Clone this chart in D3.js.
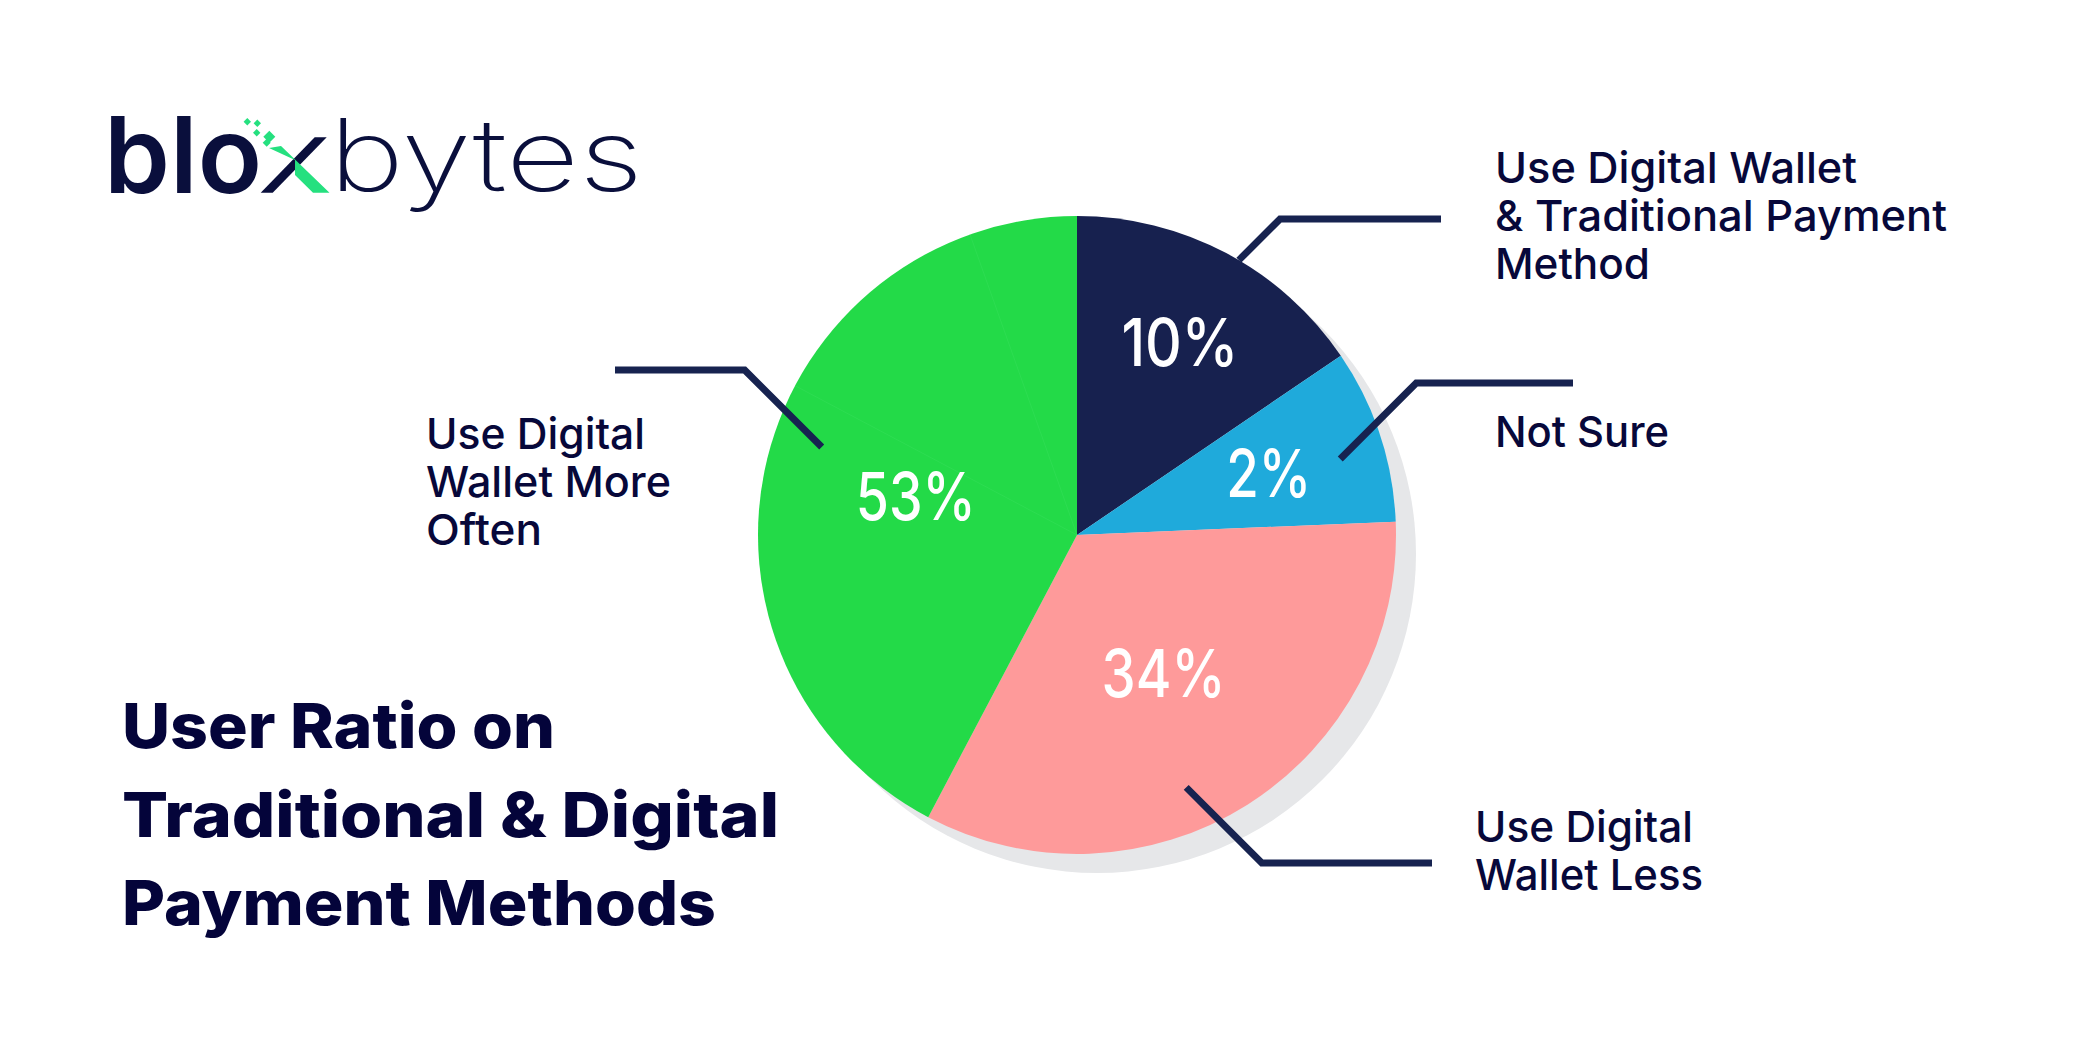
<!DOCTYPE html>
<html><head><meta charset="utf-8">
<script src="https://cdn.jsdelivr.net/npm/d3@7"></script>
<style>html,body{margin:0;padding:0;background:#fff;} svg{display:block}</style>
</head><body>
<svg id="chart" width="2084" height="1038"></svg>
<script>
// ---------------- data ----------------
const categories = [
  "Use Digital Wallet & Traditional Payment Method",
  "Not Sure",
  "Use Digital Wallet Less",
  "Use Digital Wallet More Often"
];
const percentLabels = ["10%", "2%", "34%", "53%"];
// arc sizes as drawn in the picture (degrees); the drawn pie does not follow the printed percentages
const sliceDegrees = [55.8, 31.8, 120.2, 152.2];
const categoryLines = [
  ["Use Digital Wallet", "& Traditional Payment", "Method"],
  ["Not Sure"],
  ["Use Digital", "Wallet Less"],
  ["Use Digital", "Wallet More", "Often"]
];
const titleLines = ["User Ratio on", "Traditional & Digital", "Payment Methods"];
const logoBold = "blo";
const logoLight = "bytes";

// ---------------- layout / style ----------------
const W = 2084, H = 1038;
const cx = 1077, cy = 535, R = 319;
const sliceColors = ["#17214f", "#1faadb", "#fe9a9a", "#23da48"];
const textColor = "#07083a";
const leaderColor = "#172350";
const FONT = "Inter, 'Open Sans', Lato, sans-serif";

// per-slice annotation layout
const pctRadius = [220, 202, 162, 166];
const pctWidths = [117, 85, 124, 120];
const leaderStart = [{a: 30.5, r: 319}, {a: 73.9, r: 274}, {a: 156.6, r: 275}, {a: 289, r: 270}];
const leaderElbowY = [219, 383, 863, 370];
const leaderEndX = [1441, 1573, 1432, 615];
const catLabelPos = [
  {x: 1495, y: 183, widths: [362, 452, 155]},
  {x: 1495, y: 447, widths: [174]},
  {x: 1475, y: 842, widths: [218, 228]},
  {x: 426,  y: 449, widths: [219, 245, 116]}
];
const catLineH = 47.8;

const svg = d3.select("#chart");
svg.append("rect").attr("width", W).attr("height", H).attr("fill", "#fff");

// ---------------- pie ----------------
const pie = d3.pie().sort(null).value(d => d).startAngle(0).endAngle(2 * Math.PI);
const arcs = pie(sliceDegrees);
const arc = d3.arc().innerRadius(0).outerRadius(R);

const g = svg.append("g").attr("transform", `translate(${cx},${cy})`);
// shadow
g.append("circle").attr("cx", 20).attr("cy", 19).attr("r", R).attr("fill", "#e6e7e9");
g.selectAll("path.slice").data(arcs).enter().append("path")
  .attr("class", "slice")
  .attr("d", arc)
  .attr("fill", (d, i) => sliceColors[i]);

// faint seams inside the green slice (as in the picture)
[297.9, 340.4].forEach(deg => {
  const a = deg * Math.PI / 180;
  g.append("line").attr("x1", 0).attr("y1", 0)
    .attr("x2", R * Math.sin(a)).attr("y2", -R * Math.cos(a))
    .attr("stroke", "#3fe263").attr("stroke-width", 1).attr("opacity", 0.35);
});

// percentages
const pctSize = 66;
g.selectAll("text.pct").data(arcs).enter().append("text")
  .attr("class", "pct")
  .attr("x", (d, i) => { const a = (d.startAngle + d.endAngle) / 2; return pctRadius[i] * Math.sin(a) - pctWidths[i] / 2; })
  .attr("y", (d, i) => { const a = (d.startAngle + d.endAngle) / 2; return -pctRadius[i] * Math.cos(a) + 25; })
  .attr("textLength", (d, i) => pctWidths[i]).attr("lengthAdjust", "spacingAndGlyphs")
  .attr("font-family", FONT).attr("font-weight", 500).attr("font-size", pctSize)
  .style("font-variant-numeric", "proportional-nums")
  .attr("fill", "#fff")
  .text((d, i) => percentLabels[i]);

// ---------------- leader lines ----------------
arcs.forEach((d, i) => {
  const a = leaderStart[i].a * Math.PI / 180;
  const sx = cx + leaderStart[i].r * Math.sin(a);
  const sy = cy - leaderStart[i].r * Math.cos(a);
  const ey = leaderElbowY[i];
  const dir = leaderEndX[i] > sx ? 1 : -1;
  const ex = sx + dir * Math.abs(sy - ey);
  svg.append("path")
    .attr("d", d3.line()([[sx, sy], [ex, ey], [leaderEndX[i], ey]]))
    .attr("fill", "none").attr("stroke", leaderColor).attr("stroke-width", 7)
    .attr("stroke-linejoin", "miter");
});

// ---------------- category labels ----------------
categoryLines.forEach((lines, i) => {
  const p = catLabelPos[i];
  const t = svg.append("text")
    .attr("font-family", FONT).attr("font-weight", 500).attr("font-size", 43)
    .attr("fill", textColor)
    .attr("aria-label", categories[i]);
  lines.forEach((ln, j) => {
    t.append("tspan").attr("x", p.x).attr("y", p.y + j * catLineH)
      .attr("textLength", p.widths[j]).attr("lengthAdjust", "spacingAndGlyphs")
      .text(ln);
  });
});

// ---------------- title ----------------
const titleWidths = [433, 657, 594];
const titleBase = [748, 837, 925];
const tt = svg.append("text")
  .attr("font-family", FONT).attr("font-weight", 800).attr("font-size", 62)
  .attr("fill", "#04043a");
titleLines.forEach((ln, j) => {
  tt.append("tspan").attr("x", 122).attr("y", titleBase[j])
    .attr("textLength", titleWidths[j]).attr("lengthAdjust", "spacingAndGlyphs")
    .text(ln);
});

// ---------------- logo ----------------
const logo = svg.append("g");
logo.append("text").attr("x", 104).attr("y", 193)
  .attr("font-family", FONT).attr("font-weight", 600).attr("font-size", 106)
  .attr("fill", "#0a0f3c")
  .attr("textLength", 158).attr("lengthAdjust", "spacingAndGlyphs")
  .text(logoBold);
// the "x" mark
logo.append("polygon")
  .attr("points", "260.7,192.7 272.7,192.7 326.7,137.3 314.7,137.3")
  .attr("fill", "#0a0f3c");
logo.append("polygon")
  .attr("points", "269,148 281,146 329.5,192.7 313,192.7 295,175 295,160")
  .attr("fill", "#25e07f");
[[247.3,121.7,3.7],[257.3,123.3,3.7],[256.7,132.7,3.7],[269.3,136.7,6],[266.7,142.7,4]].forEach(s => {
  logo.append("polygon")
    .attr("points", `${s[0]},${s[1]-s[2]} ${s[0]+s[2]},${s[1]} ${s[0]},${s[1]+s[2]} ${s[0]-s[2]},${s[1]}`)
    .attr("fill", "#25e07f");
});
logo.append("text").attr("x", 329).attr("y", 191)
  .attr("font-family", FONT).attr("font-weight", 200).attr("font-size", 100)
  .attr("fill", "#0a0f3c")
  .attr("textLength", 314).attr("lengthAdjust", "spacingAndGlyphs")
  .text(logoLight);
</script>
</body></html>
